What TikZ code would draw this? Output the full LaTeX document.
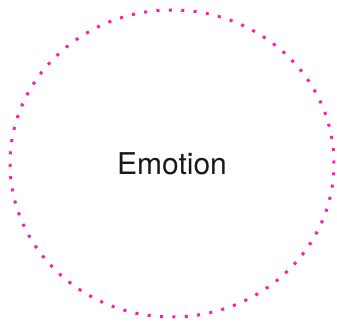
\documentclass[tikz,border=0pt]{standalone}
\usepackage{fontspec}
\setmainfont{TeX Gyre Heros}
\usepackage{xcolor}
\usepackage{tikz}
\usetikzlibrary{shapes,positioning}

\definecolor{emopink}{RGB}{255,30,165}

\begin{document}
\begin{tikzpicture}[
    x=1pt, y=-1pt,
    bubble/.style={ellipse, draw=emopink, line width=3pt, dash pattern=on 3pt off 9.4pt, minimum width=324pt, minimum height=307pt, inner sep=0pt, align=center, font=\fontsize{30}{34}\selectfont, text=black!90}
]
    \useasboundingbox (0,0) rectangle (337,323);

    % Emotion bubble
    \node[bubble] (emotion) at (172,163.5) {Emotion};
\end{tikzpicture}
\end{document}
